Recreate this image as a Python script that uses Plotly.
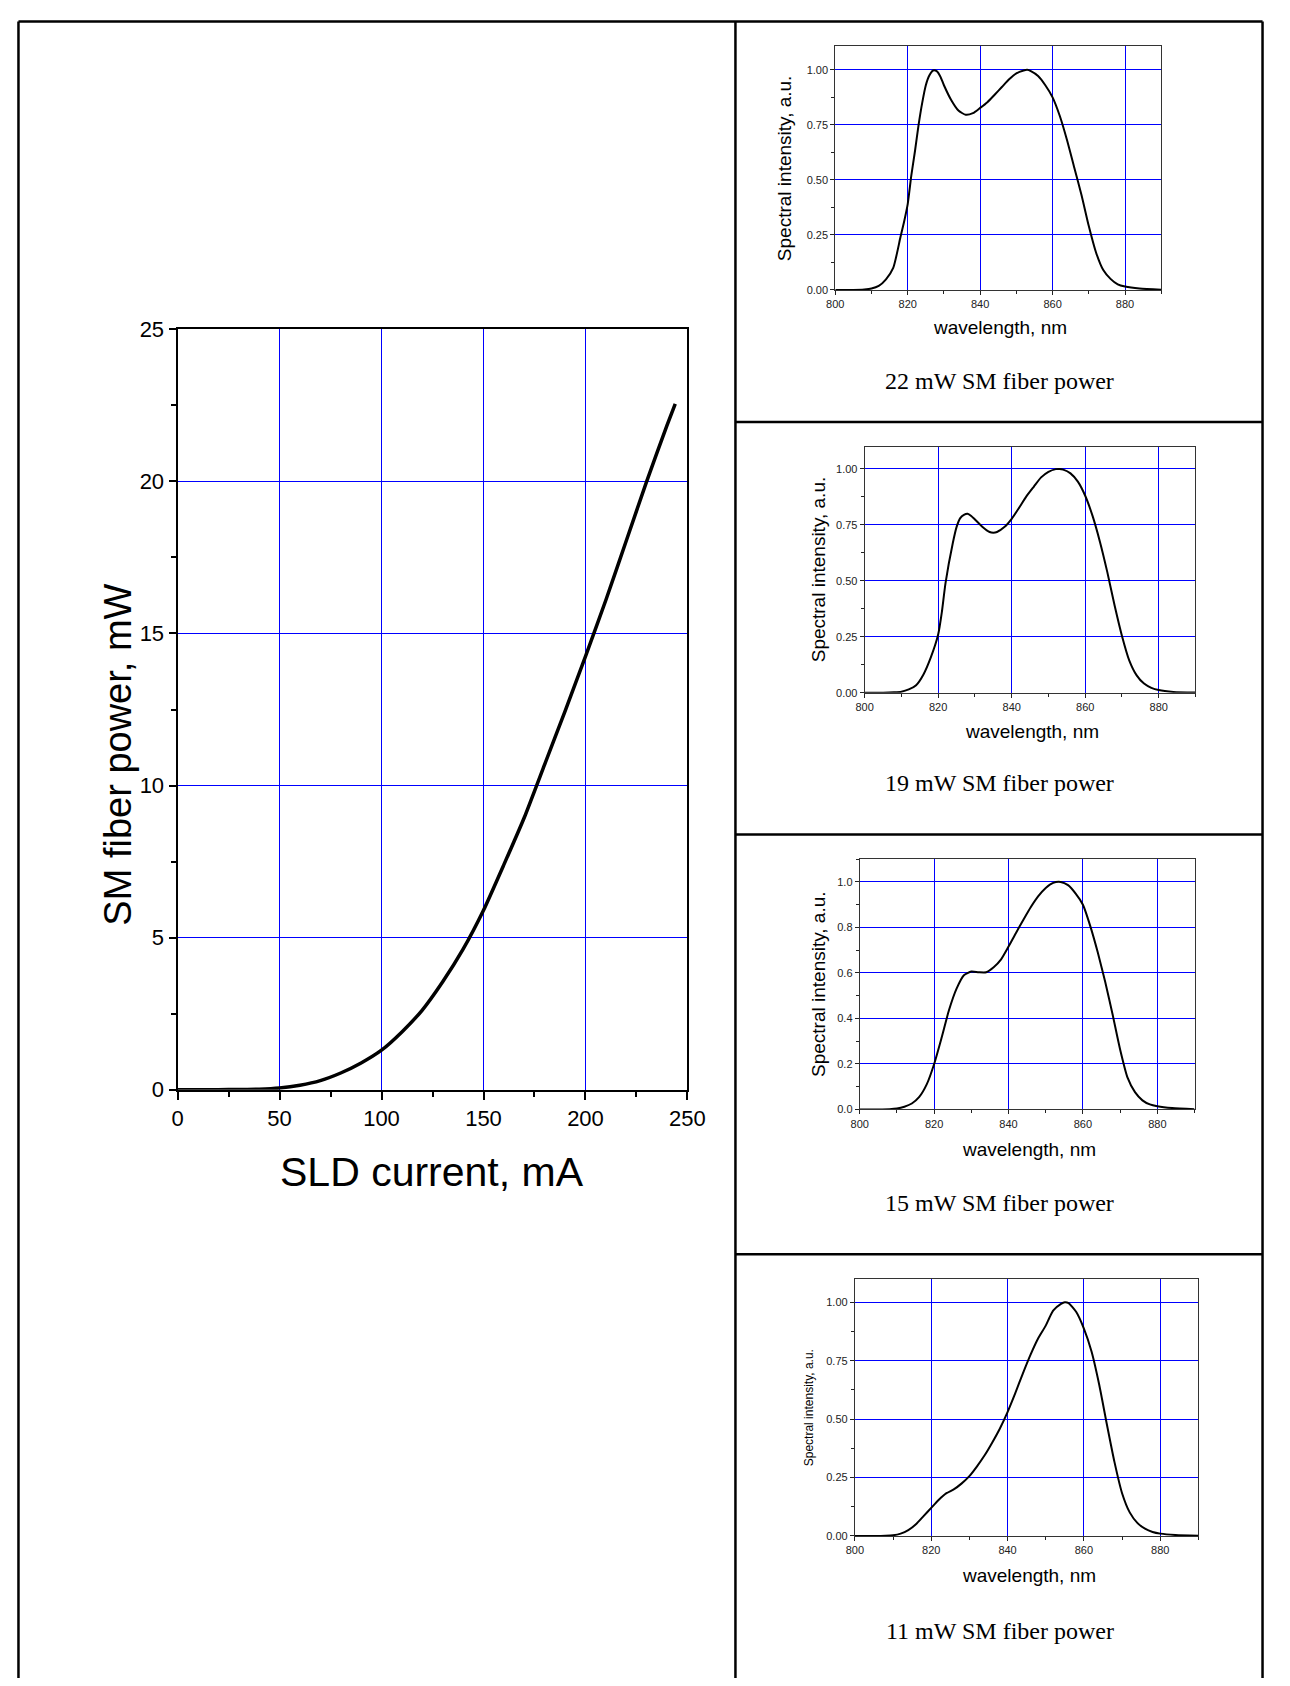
import plotly.graph_objects as go

# The browser page adds an 8px body margin; the figure is sized so that the
# whole page is exactly 1290x1686, and positions below are page pixels.
PAGE_W, PAGE_H = 1290, 1686
OFF = 8
FW, FH = PAGE_W - 2 * OFF, PAGE_H - 2 * OFF

# ---------------- data ----------------
current_mA = [0, 10, 20, 30, 40, 50, 60, 70, 80, 90, 100, 110, 120, 130, 140, 150,
              160, 170, 180, 190, 200, 210, 220, 230, 240, 244]
power_mW = [0, 0, 0, 0.01, 0.02, 0.06, 0.15, 0.3, 0.55, 0.88, 1.3, 1.9, 2.62, 3.55,
            4.62, 5.9, 7.4, 8.95, 10.7, 12.45, 14.25, 16.1, 18.05, 20.0, 21.85, 22.55]

wl_22 = [800, 805, 808, 810, 812, 814, 816, 818, 819, 820, 821, 822, 823, 824, 825, 826, 827,
         828, 829, 830, 832, 834, 836, 838, 840, 842, 844, 846, 848, 850, 852, 853,
         854, 856, 858, 860, 862, 864, 866, 868, 870, 872, 874, 876, 878, 880, 884, 890]
sp_22 = [0.0, 0.0, 0.002, 0.006, 0.018, 0.048, 0.10, 0.24, 0.31, 0.39, 0.52, 0.63, 0.75,
         0.85, 0.93, 0.975, 0.997, 0.994, 0.97, 0.93, 0.863, 0.815, 0.796, 0.803, 0.827,
         0.853, 0.887, 0.922, 0.957, 0.984, 0.997, 1.0, 0.994, 0.972, 0.93, 0.875, 0.79,
         0.68, 0.555, 0.43, 0.29, 0.17, 0.09, 0.05, 0.025, 0.015, 0.006, 0.001]

wl_19 = [800, 805, 808, 810, 812, 814, 816, 818, 820, 821, 822, 824, 825, 826, 827, 828,
         829, 830, 832, 834, 835, 836, 838, 840, 842, 844, 846, 848, 850, 852, 853, 854,
         856, 858, 860, 862, 864, 866, 868, 870, 872, 874, 876, 878, 880, 884, 890]
sp_19 = [0.0, 0.0, 0.002, 0.005, 0.015, 0.034, 0.082, 0.158, 0.26, 0.36, 0.49, 0.67, 0.74,
         0.78, 0.795, 0.80, 0.79, 0.774, 0.742, 0.718, 0.715, 0.718, 0.74, 0.777, 0.826,
         0.877, 0.92, 0.962, 0.987, 0.999, 1.0, 0.997, 0.98, 0.943, 0.88, 0.79, 0.675,
         0.54, 0.39, 0.254, 0.144, 0.078, 0.041, 0.022, 0.012, 0.004, 0.001]

wl_15 = [800, 805, 808, 810, 812, 814, 816, 818, 820, 822, 824, 826, 828, 830, 832, 834,
         836, 838, 840, 842, 844, 846, 848, 850, 852, 854, 856, 858, 860, 862, 864, 866,
         868, 870, 872, 874, 876, 878, 880, 884, 890]
sp_15 = [0.0, 0.0, 0.001, 0.004, 0.012, 0.026, 0.055, 0.11, 0.2, 0.315, 0.437, 0.53, 0.59,
         0.606, 0.603, 0.603, 0.625, 0.66, 0.716, 0.776, 0.834, 0.89, 0.938, 0.974, 0.996,
         1.0, 0.986, 0.95, 0.9, 0.805, 0.69, 0.56, 0.416, 0.264, 0.14, 0.076, 0.04, 0.022,
         0.014, 0.006, 0.001]

wl_11 = [800, 805, 808, 810, 812, 814, 816, 818, 820, 822, 824, 826, 828, 830, 832, 834,
         836, 838, 840, 842, 844, 846, 848, 850, 851, 852, 854, 855, 856, 858, 860, 862,
         864, 866, 868, 870, 872, 874, 876, 878, 880, 884, 890]
sp_11 = [0.0, 0.0, 0.001, 0.003, 0.01, 0.025, 0.05, 0.085, 0.12, 0.155, 0.183, 0.2, 0.225,
         0.256, 0.298, 0.345, 0.40, 0.46, 0.53, 0.61, 0.695, 0.775, 0.845, 0.9, 0.935, 0.965,
         0.993, 1.0, 0.996, 0.958, 0.887, 0.789, 0.648, 0.479, 0.317, 0.183, 0.101, 0.056,
         0.031, 0.017, 0.01, 0.004, 0.001]

captions = ["22 mW SM fiber power", "19 mW SM fiber power",
            "15 mW SM fiber power", "11 mW SM fiber power"]

SANS = "Liberation Sans, Arial, sans-serif"
SERIF = "Liberation Serif, Times New Roman, serif"
BLUE = "#0000FF"


def X(px):
    return (px - OFF) / FW


def Y(py):
    return 1 - (py - OFF) / FH


fig = go.Figure()

# ---------------- main plot ----------------
fig.add_trace(go.Scatter(x=current_mA, y=power_mW, mode="lines",
                         line=dict(color="black", width=3.5, shape="spline", smoothing=0.5),
                         xaxis="x", yaxis="y", showlegend=False, hoverinfo="skip"))

main_box = (172, 693, 322, 1094)  # left, right, top, bottom (page px)
layout_axes = {}
layout_axes["xaxis"] = dict(
    domain=[X(main_box[0]), X(main_box[1])], range=[0, 250], anchor="y",
    tickmode="linear", tick0=0, dtick=50, ticks="outside", ticklen=8, tickwidth=1.5,
    tickcolor="black", showline=True, linecolor="black", linewidth=2, mirror=True,
    showgrid=True, gridcolor=BLUE, gridwidth=1, zeroline=False,
    tickfont=dict(family=SANS, size=22, color="black"),
    minor=dict(dtick=25, ticks="outside", ticklen=5, tickcolor="black", showgrid=False),
)
layout_axes["yaxis"] = dict(
    domain=[Y(main_box[3]), Y(main_box[2])], range=[0, 25], anchor="x",
    tickmode="linear", tick0=0, dtick=5, ticks="outside", ticklen=7, tickwidth=1.5,
    tickcolor="black", showline=True, linecolor="black", linewidth=2, mirror=True,
    showgrid=True, gridcolor=BLUE, gridwidth=1, zeroline=False,
    tickfont=dict(family=SANS, size=22, color="black"),
    minor=dict(dtick=2.5, ticks="outside", ticklen=5, tickcolor="black", showgrid=False),
)

annotations = [
    dict(text="SLD current, mA", x=X(432), y=Y(1178), xref="paper", yref="paper",
         showarrow=False, xanchor="center", yanchor="middle",
         font=dict(family=SANS, size=41, color="black")),
    dict(text="SM fiber power, mW", x=X(111), y=Y(754), xref="paper", yref="paper",
         showarrow=False, xanchor="center", yanchor="middle", textangle=-90,
         font=dict(family=SANS, size=38, color="black")),
]

# ---------------- spectra ----------------
spectra = [
    (wl_22, sp_22, (844, 1177, 34, 282), 1.11, 0.25, ".2f", 0.125, 19, 792, 320, 374),
    (wl_19, sp_19, (874, 1212, 441, 691), 1.10, 0.25, ".2f", 0.125, 19, 827, 730, 783),
    (wl_15, sp_15, (869, 1211, 860, 1114), 1.10, 0.2, ".1f", 0.1, 19, 827, 1155, 1209),
    (wl_11, sp_11, (864, 1215, 1286, 1547), 1.10, 0.25, ".2f", 0.125, 12, 818, 1587, 1643),
]

for i, (wl, sp, box, ytop, dty, fmt, minor_y, ytsize, ytx, xty, capy) in enumerate(spectra):
    n = i + 2
    xa, ya = f"xaxis{n}", f"yaxis{n}"
    fig.add_trace(go.Scatter(x=wl, y=sp, mode="lines",
                             line=dict(color="black", width=2, shape="spline", smoothing=0.6),
                             xaxis=f"x{n}", yaxis=f"y{n}", showlegend=False,
                             hoverinfo="skip"))
    layout_axes[xa] = dict(
        domain=[X(box[0]), X(box[1])], range=[800, 890], anchor=f"y{n}",
        tickmode="linear", tick0=800, dtick=20, ticks="outside", ticklen=4,
        tickcolor="#222", showline=True, linecolor="#333", linewidth=1, mirror=True,
        showgrid=True, gridcolor=BLUE, gridwidth=1, zeroline=False,
        tickfont=dict(family=SANS, size=11, color="#222"),
        minor=dict(dtick=10, ticks="outside", ticklen=3, tickcolor="#222", showgrid=False),
    )
    layout_axes[ya] = dict(
        domain=[Y(box[3]), Y(box[2])], range=[0, ytop], anchor=f"x{n}",
        tickmode="linear", tick0=0, dtick=dty, tickformat=fmt, ticks="outside",
        ticklen=4, tickcolor="#222", showline=True, linecolor="#333", linewidth=1,
        mirror=True, showgrid=True, gridcolor=BLUE, gridwidth=1, zeroline=False,
        tickfont=dict(family=SANS, size=11, color="#222"),
        minor=dict(dtick=minor_y, ticks="outside", ticklen=3, tickcolor="#222",
                   showgrid=False),
    )
    cx = (box[0] + box[1]) / 2
    cy = (box[2] + box[3]) / 2
    annotations.append(dict(text="wavelength, nm", x=X(cx + 2), y=Y(xty), xref="paper",
                            yref="paper", showarrow=False, xanchor="center",
                            yanchor="middle", font=dict(family=SANS, size=19, color="black")))
    annotations.append(dict(text="Spectral intensity, a.u.", x=X(ytx), y=Y(cy),
                            xref="paper", yref="paper", showarrow=False, xanchor="center",
                            yanchor="middle", textangle=-90,
                            font=dict(family=SANS, size=ytsize, color="black")))
    annotations.append(dict(text=captions[i], x=X(1012), y=Y(capy), xref="paper",
                            yref="paper", showarrow=False, xanchor="center",
                            yanchor="middle", font=dict(family=SERIF, size=24, color="black")))

# ---------------- table frame ----------------
shapes = []
LW = 2.5


def line(x0, y0, x1, y1):
    shapes.append(dict(type="line", xref="paper", yref="paper", x0=X(x0), y0=Y(y0),
                       x1=X(x1), y1=Y(y1), line=dict(color="black", width=LW)))


TOP, LEFT, RIGHT, DIV = 9.5, 9.5, 1280.5, 742
line(LEFT, TOP, RIGHT, TOP)          # top
line(LEFT, TOP, LEFT, 1700)          # left
line(RIGHT, TOP, RIGHT, 1700)        # right
line(DIV, TOP, DIV, 1700)            # divider
for yy in (416, 835, 1261):
    line(DIV, yy, RIGHT, yy)

fig.update_layout(
    width=FW, height=FH, margin=dict(l=0, r=0, t=0, b=0),
    paper_bgcolor="white", plot_bgcolor="white",
    annotations=annotations, shapes=shapes, **layout_axes,
)

fig.write_html("out.html", config={"displayModeBar": False})
